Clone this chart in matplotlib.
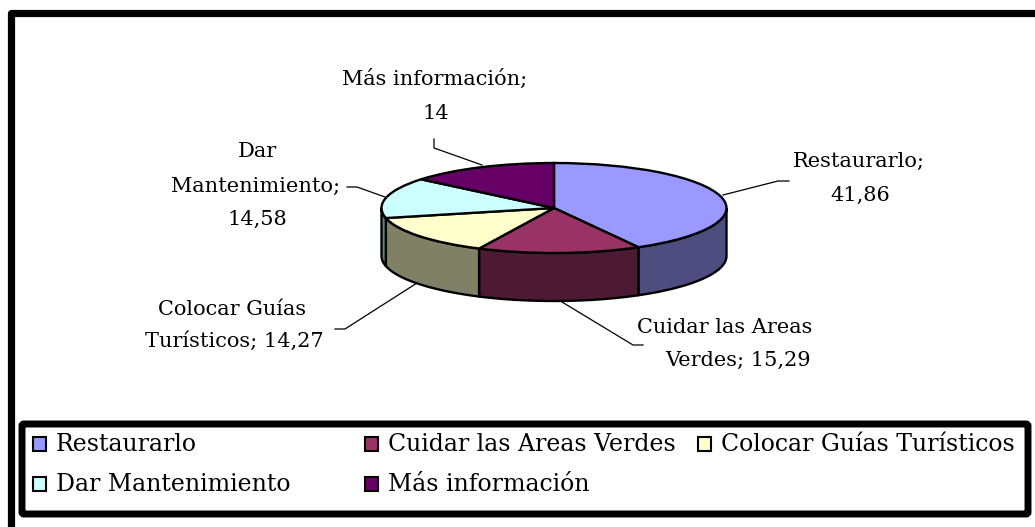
import numpy as np
import matplotlib
matplotlib.use("Agg")
import matplotlib.pyplot as plt
from matplotlib.patches import Rectangle, FancyBboxPatch

categories = ["Restaurarlo", "Cuidar las Areas Verdes", "Colocar Guías Turísticos",
              "Dar Mantenimiento", "Más información"]
values = [41.86, 15.29, 14.27, 14.58, 14.0]
value_labels = ["41,86", "15,29", "14,27", "14,58", "14"]
top_colors = ["#9999FF", "#993366", "#FFFFCC", "#CCFFFF", "#660066"]
side_colors = ["#4D4D80", "#4D1A33", "#808066", "#668080", "#330033"]

W, H = 1035, 527
plt.rcParams["font.family"] = "DejaVu Serif"
fig = plt.figure(figsize=(W / 100, H / 100), dpi=100, facecolor="white")

# page overlay in pixel coordinates
bg = fig.add_axes([0, 0, 1, 1])
bg.set_xlim(0, W); bg.set_ylim(H, 0); bg.axis("off")

# outer frame
bg.plot([10.5, 10.5, W + 10], [H + 10, 13, 13], color="black", lw=5.2, solid_joinstyle="round")

# pie geometry in pixels
cx, cy, rx, ry, depth = 554, 208, 172.5, 45, 48
pie_ax = fig.add_axes([(cx - rx) / W, 1 - (cy + ry) / H, 2 * rx / W, 2 * ry / H])
wedges, _ = pie_ax.pie(values, colors=top_colors, startangle=90, counterclock=False, radius=1,
                       wedgeprops=dict(edgecolor="black", linewidth=1.7, zorder=5))
pie_ax.set_aspect("auto")
pie_ax.set_xlim(-1, 1); pie_ax.set_ylim(-1, 1)
for w in wedges:
    w.set_clip_on(False)

# side wall
d = depth / ry
fr = np.cumsum([0] + values) / sum(values) * 2 * np.pi
for i in range(len(values)):
    a0, a1 = max(fr[i], np.pi / 2), min(fr[i + 1], 3 * np.pi / 2)
    if a1 <= a0:
        continue
    t = np.linspace(a0, a1, 80)
    x, y = np.sin(t), np.cos(t)
    pie_ax.fill(np.r_[x, x[::-1]], np.r_[y, y[::-1] - d], facecolor=side_colors[i],
                edgecolor="black", linewidth=1.7, zorder=3, clip_on=False, joinstyle="round")

# leader lines
leaders = [
    ([723, 778, 789], [195, 181, 181]),
    ([562, 633, 643], [302, 345, 345]),
    ([417, 345, 335], [283, 329, 329]),
    ([385, 357, 347], [197, 187, 187]),
    ([482, 434, 434], [165, 148, 139]),
]
for lx, ly in leaders:
    bg.plot(lx, ly, color="black", lw=0.9)

# data labels, one entry per line, placed on their baselines
fs = 15
label_lines = [
    (859, 167, f"{categories[0]};"),
    (860, 201, value_labels[0]),
    (725, 333, "Cuidar las Areas"),
    (738, 366, f"Verdes; {value_labels[1]}"),
    (232, 315, "Colocar Guías"),
    (234, 347, f"Turísticos; {value_labels[2]}"),
    (257, 157, "Dar"),
    (256, 192, "Mantenimiento;"),
    (257, 225, value_labels[3]),
    (435, 85, f"{categories[4]};"),
    (436, 119, value_labels[4]),
]
for x, y, s in label_lines:
    bg.text(x, y, s, ha="center", va="baseline", fontsize=fs, color="black")

# legend
bg.add_patch(FancyBboxPatch((22, 424), 1006, 90, boxstyle="round,pad=0,rounding_size=2",
                            facecolor="white", edgecolor="black", linewidth=5, zorder=6))
col_x = [32, 364, 697]
row_y = [444, 484]
for i, (name, color) in enumerate(zip(categories, top_colors)):
    x = col_x[i % 3]; y = row_y[i // 3]
    bg.add_patch(Rectangle((x + 1, y - 7), 13, 14, facecolor=color, edgecolor="black", lw=1.5, zorder=7))
    bg.text(x + 24, y + 7, name, ha="left", va="baseline", fontsize=17, color="black", zorder=7)

fig.savefig("out.png", dpi=100)
